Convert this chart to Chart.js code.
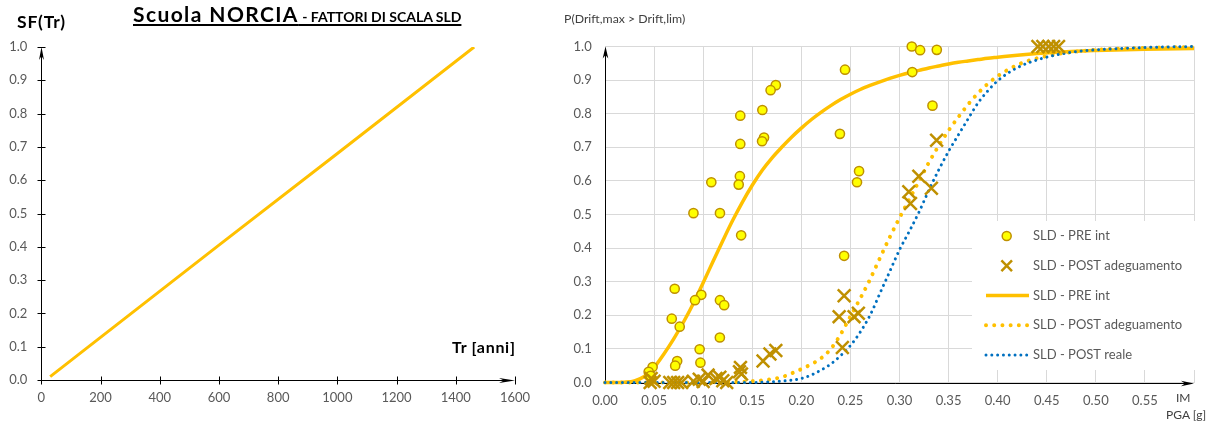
<!DOCTYPE html>
<html>
<head>
<meta charset="utf-8">
<script src="https://cdn.jsdelivr.net/npm/chart.js@4.4.1/dist/chart.umd.min.js"></script>
<style>
  html, body { margin: 0; padding: 0; background: #fff; }
  body { width: 1210px; height: 421px; position: relative; overflow: hidden; font-family: Lato, "Open Sans", sans-serif; }
  canvas { position: absolute; top: 0; }
  #sfChart { left: 0; }
  #fragChart { left: 560px; }
  .lbl { position: absolute; white-space: nowrap; line-height: normal; }
  .bold { font-weight: bold; color: #000; }
  .gray { color: #404040; }
  #title { left: 133px; top: 1px; font-size: 21px; letter-spacing: 1.4px; text-decoration: underline; text-decoration-thickness: 1.5px; text-underline-offset: 2px; }
  #title .sub { font-size: 14px; letter-spacing: 0; }
  #sfLabel { left: 17px; top: 11px; font-size: 17.5px; letter-spacing: 0.8px; }
  #trLabel { left: 452px; top: 337px; font-size: 16px; letter-spacing: 0.7px; }
  #pLabel { left: 564px; top: 11px; font-size: 12.3px; }
  #imLabel { left: 1176px; top: 390px; font-size: 12px; }
  #pgaLabel { left: 1166px; top: 407px; font-size: 12px; }
</style>
</head>
<body>
<canvas id="sfChart" width="560" height="421"></canvas>
<canvas id="fragChart" width="650" height="421"></canvas>

<div class="lbl bold" id="title">Scuola NORCIA<span class="sub"> - FATTORI DI SCALA SLD</span></div>
<div class="lbl bold" id="sfLabel">SF(Tr)</div>
<div class="lbl bold" id="trLabel">Tr [anni]</div>
<div class="lbl gray" id="pLabel">P(Drift,max &gt; Drift,lim)</div>
<div class="lbl gray" id="imLabel">IM</div>
<div class="lbl gray" id="pgaLabel">PGA [g]</div>

<script>
// ---- Scale factor vs return period ----
const trYears  = [30, 200, 600, 1000, 1462];
const sfValues = [0.01, 0.128, 0.405, 0.68, 1.0];
const trTicks  = [0, 200, 400, 600, 800, 1000, 1200, 1400, 1600];
const trTickLabels = ['0', '200', '400', '600', '800', '1000', '1200', '1400', '1600'];
const sfTicks  = [0, 0.1, 0.2, 0.3, 0.4, 0.5, 0.6, 0.7, 0.8, 0.9, 1.0];
const sfTickLabels = ['0.0', '0.1', '0.2', '0.3', '0.4', '0.5', '0.6', '0.7', '0.8', '0.9', '1.0'];

// ---- Fragility curves (SLD) ----
const pgaGrid = [0.00, 0.01, 0.02, 0.03, 0.04, 0.05, 0.06, 0.07, 0.08, 0.09,
                 0.10, 0.11, 0.12, 0.13, 0.14, 0.15, 0.16, 0.17, 0.18, 0.19,
                 0.20, 0.21, 0.22, 0.23, 0.24, 0.25, 0.26, 0.27, 0.28, 0.29,
                 0.30, 0.31, 0.32, 0.33, 0.34, 0.35, 0.36, 0.37, 0.38, 0.39,
                 0.40, 0.42, 0.44, 0.46, 0.48, 0.50, 0.55, 0.60];
const preIntCurve = [0, 0, 0.001, 0.005, 0.018, 0.045, 0.085, 0.13, 0.18, 0.235,
                     0.297, 0.36, 0.422, 0.482, 0.537, 0.587, 0.631, 0.668, 0.70, 0.73,
                     0.757, 0.782, 0.804, 0.824, 0.842, 0.858, 0.872, 0.884, 0.895, 0.905,
                     0.914, 0.922, 0.929, 0.936, 0.942, 0.948, 0.953, 0.957, 0.961, 0.965,
                     0.968, 0.974, 0.979, 0.983, 0.986, 0.988, 0.992, 0.994];
const postAdegCurve = [0, 0, 0, 0, 0, 0, 0, 0, 0, 0,
                       0, 0, 0, 0.001, 0.002, 0.004, 0.006, 0.01, 0.016, 0.027,
                       0.04, 0.054, 0.072, 0.1, 0.143, 0.197, 0.25, 0.307, 0.37, 0.432,
                       0.49, 0.545, 0.6, 0.655, 0.705, 0.75, 0.79, 0.828, 0.861, 0.889,
                       0.912, 0.945, 0.965, 0.977, 0.985, 0.99, 0.996, 0.998];
const postRealeCurve = [0, 0, 0, 0, 0, 0, 0, 0, 0, 0,
                        0, 0, 0, 0, 0, 0, 0.001, 0.002, 0.004, 0.007,
                        0.012, 0.022, 0.037, 0.055, 0.08, 0.11, 0.15, 0.2, 0.265, 0.33,
                        0.395, 0.45, 0.508, 0.573, 0.633, 0.688, 0.737, 0.785, 0.832, 0.868,
                        0.898, 0.937, 0.96, 0.975, 0.985, 0.99, 0.997, 1.0];

// Analysis results, pre-intervention
const preIntPga  = [0.3125, 0.321, 0.338, 0.313, 0.2445, 0.3336, 0.174, 0.1687, 0.1603, 0.1378,
                    0.2393, 0.162, 0.160, 0.1378, 0.2588, 0.1374, 0.2567, 0.1083, 0.1362, 0.0901,
                    0.1171, 0.1387, 0.2436, 0.071, 0.0981, 0.0917, 0.1171, 0.1214, 0.068, 0.0761,
                    0.117, 0.0964, 0.0972, 0.0735, 0.0715, 0.0485, 0.0445, 0.0465];
const preIntProb = [1.0, 0.989, 0.99, 0.924, 0.931, 0.824, 0.885, 0.870, 0.811, 0.794,
                    0.740, 0.729, 0.718, 0.710, 0.629, 0.614, 0.596, 0.596, 0.589, 0.504,
                    0.504, 0.438, 0.377, 0.279, 0.261, 0.245, 0.245, 0.230, 0.190, 0.166,
                    0.134, 0.099, 0.059, 0.064, 0.050, 0.046, 0.032, 0.020];

// Analysis results, after retrofit
const postAdegPga  = [0.046, 0.047, 0.050, 0.066, 0.070, 0.074, 0.078, 0.090, 0.096, 0.100,
                      0.105, 0.113, 0.117, 0.120, 0.124, 0.137, 0.138, 0.139, 0.161, 0.168,
                      0.174, 0.2418, 0.2385, 0.2436, 0.2537, 0.2581, 0.3095, 0.3112, 0.3197, 0.3325,
                      0.3378, 0.441, 0.446, 0.452, 0.457, 0.462];
const postAdegProb = [0.0, 0.012, 0.004, 0.0, 0.0, 0.0, 0.0, 0.004, 0.01, 0.003,
                      0.022, 0.012, 0.016, 0.005, 0.0, 0.032, 0.045, 0.025, 0.064, 0.085,
                      0.095, 0.104, 0.196, 0.258, 0.196, 0.206, 0.568, 0.533, 0.614, 0.578,
                      0.721, 1.0, 1.0, 1.0, 1.0, 1.0];

const pgaTicks  = [0, 0.05, 0.10, 0.15, 0.20, 0.25, 0.30, 0.35, 0.40, 0.45, 0.50, 0.55, 0.60];
const pgaTickLabels = ['0.00', '0.05', '0.10', '0.15', '0.20', '0.25', '0.30', '0.35', '0.40', '0.45', '0.50', '0.55', ''];
const probTicks = [0, 0.1, 0.2, 0.3, 0.4, 0.5, 0.6, 0.7, 0.8, 0.9, 1.0];
const probTickLabels = ['0.0', '0.1', '0.2', '0.3', '0.4', '0.5', '0.6', '0.7', '0.8', '0.9', '1.0'];

const toPoints = (xs, ys) => xs.map((x, i) => ({ x: x, y: ys[i] }));
const useTicks = values => scale => { scale.ticks = values.map(v => ({ value: v })); };
const labelFrom = labels => (v, i) => labels[i];

// fixed axis sizes, no extra room reserved for edge labels
const fixX = h => s => { s.height = h; s.paddingLeft = 0; s.paddingRight = 0; };
const fixY = w => s => { s.width = w; s.paddingTop = 0; s.paddingBottom = 0; };

const TICK_GRAY = '#595959';
const GRID_GRAY = '#D9D9D9';
const ORANGE = '#FFC000';
const GOLD = '#BF9000';
const BLUE = '#0070C0';

Chart.defaults.font.family = 'Lato, "Open Sans", sans-serif';
Chart.defaults.font.size = 13;
Chart.defaults.color = TICK_GRAY;

// Axis lines with arrow heads, optional crossing tick marks
const axisArrows = {
  id: 'axisArrows',
  beforeDatasetsDraw(chart, args, o) {
    const { ctx, chartArea: a } = chart;
    const x0 = Math.round(a.left) + 0.5;
    const y0 = Math.round(a.bottom) + 0.5;
    const yTop = a.top;
    const xEnd = a.right;
    ctx.save();
    ctx.strokeStyle = '#000';
    ctx.fillStyle = '#000';
    ctx.lineWidth = 1;
    ctx.beginPath();
    ctx.moveTo(x0, y0); ctx.lineTo(x0, yTop + o.yHead * 0.6);
    ctx.moveTo(x0, y0); ctx.lineTo(xEnd - o.xHead * 0.6, y0);
    ctx.stroke();
    ctx.beginPath();
    ctx.moveTo(x0, yTop);
    ctx.lineTo(x0 - o.yHalf, yTop + o.yHead);
    ctx.lineTo(x0, yTop + o.yHead * 0.7);
    ctx.lineTo(x0 + o.yHalf, yTop + o.yHead);
    ctx.closePath();
    ctx.moveTo(xEnd, y0);
    ctx.lineTo(xEnd - o.xHead, y0 - o.xHalf);
    ctx.lineTo(xEnd - o.xHead * 0.7, y0);
    ctx.lineTo(xEnd - o.xHead, y0 + o.xHalf);
    ctx.closePath();
    ctx.fill();
    if (o.crossTicks) {
      const xs = chart.scales.x, ys = chart.scales.y;
      ctx.beginPath();
      ys.ticks.forEach(t => {
        const py = Math.round(ys.getPixelForValue(t.value)) + 0.5;
        ctx.moveTo(x0 - 4, py); ctx.lineTo(x0 + 4, py);
      });
      xs.ticks.forEach(t => {
        const px = Math.round(xs.getPixelForValue(t.value)) + 0.5;
        ctx.moveTo(px, y0 - 4); ctx.lineTo(px, y0 + 4);
      });
      ctx.stroke();
    }
    ctx.restore();
  }
};

// Legend drawn in a white box inside the plot
const boxLegend = {
  id: 'boxLegend',
  beforeDatasetsDraw(chart, args, o) {
    const ctx = chart.ctx;
    ctx.save();
    ctx.fillStyle = '#fff';
    ctx.fillRect(o.box.x, o.box.y, o.box.w, o.box.h);
    ctx.font = o.font;
    ctx.textBaseline = 'middle';
    chart.data.datasets.forEach((ds, i) => {
      const y = o.row0 + i * o.rowStep;
      ctx.save();
      if (ds.showLine) {
        ctx.strokeStyle = ds.borderColor;
        ctx.lineWidth = ds.borderWidth;
        ctx.lineCap = ds.borderCapStyle || 'butt';
        ctx.setLineDash(ds.borderDash || []);
        ctx.beginPath();
        ctx.moveTo(o.lineX0, y);
        ctx.lineTo(o.lineX1, y);
        ctx.stroke();
      } else {
        ctx.fillStyle = ds.pointBackgroundColor || 'transparent';
        ctx.strokeStyle = ds.pointBorderColor;
        ctx.lineWidth = ds.pointBorderWidth;
        Chart.helpers.drawPoint(ctx, {
          pointStyle: ds.pointStyle,
          radius: o.markerRadius[ds.pointStyle],
          borderWidth: ds.pointBorderWidth,
          rotation: 0
        }, o.markerX, y);
      }
      ctx.restore();
      ctx.fillStyle = o.color;
      ctx.fillText(ds.label, o.textX, y);
    });
    ctx.restore();
  }
};

new Chart(document.getElementById('sfChart'), {
  type: 'scatter',
  data: {
    datasets: [{
      label: 'SF(Tr)',
      data: toPoints(trYears, sfValues),
      showLine: true,
      borderColor: ORANGE,
      borderWidth: 3,
      pointRadius: 0,
      fill: false
    }]
  },
  options: {
    responsive: false,
    animation: false,
    events: [],
    layout: { padding: { left: 0, top: 47, right: 45, bottom: 0 } },
    plugins: {
      legend: { display: false },
      tooltip: { enabled: false },
      axisArrows: { crossTicks: true, yHead: 13, yHalf: 2.5, xHead: 16, xHalf: 2.6 }
    },
    scales: {
      x: {
        type: 'linear', min: 0, max: 1600,
        afterBuildTicks: useTicks(trTicks),
        afterFit: fixX(41),
        grid: { display: false, drawTicks: false },
        border: { display: false },
        ticks: { padding: 10, color: TICK_GRAY, font: { size: 13 }, callback: labelFrom(trTickLabels) }
      },
      y: {
        type: 'linear', min: 0, max: 1,
        afterBuildTicks: useTicks(sfTicks),
        afterFit: fixY(41.3),
        grid: { display: false, drawTicks: false },
        border: { display: false },
        ticks: { padding: 14, color: TICK_GRAY, font: { size: 13 }, callback: labelFrom(sfTickLabels) }
      }
    }
  },
  plugins: [axisArrows]
});

new Chart(document.getElementById('fragChart'), {
  type: 'scatter',
  data: {
    datasets: [
      {
        label: 'SLD - PRE int',
        data: toPoints(preIntPga, preIntProb),
        pointStyle: 'circle',
        pointRadius: 4.6,
        pointBackgroundColor: '#FFFF00',
        pointBorderColor: GOLD,
        pointBorderWidth: 1.5,
        order: 1
      },
      {
        label: 'SLD - POST adeguamento',
        data: toPoints(postAdegPga, postAdegProb),
        pointStyle: 'crossRot',
        pointRadius: 9,
        pointBorderColor: GOLD,
        pointBorderWidth: 2.5,
        order: 0
      },
      {
        label: 'SLD - PRE int',
        data: toPoints(pgaGrid, preIntCurve),
        showLine: true,
        borderColor: ORANGE,
        borderWidth: 3.5,
        pointRadius: 0,
        cubicInterpolationMode: 'monotone',
        fill: false,
        order: 4
      },
      {
        label: 'SLD - POST adeguamento',
        data: toPoints(pgaGrid, postAdegCurve),
        showLine: true,
        borderColor: ORANGE,
        borderWidth: 4,
        borderDash: [0.01, 8.2],
        borderCapStyle: 'round',
        pointRadius: 0,
        cubicInterpolationMode: 'monotone',
        fill: false,
        order: 3
      },
      {
        label: 'SLD - POST reale',
        data: toPoints(pgaGrid, postRealeCurve),
        showLine: true,
        borderColor: BLUE,
        borderWidth: 3,
        borderDash: [0.01, 5.8],
        borderCapStyle: 'round',
        pointRadius: 0,
        cubicInterpolationMode: 'monotone',
        fill: false,
        order: 2
      }
    ]
  },
  options: {
    responsive: false,
    animation: false,
    events: [],
    clip: false,
    layout: { padding: { left: 0, top: 46.5, right: 16, bottom: 0 } },
    plugins: {
      legend: { display: false },
      tooltip: { enabled: false },
      axisArrows: { crossTicks: false, yHead: 12, yHalf: 2.8, xHead: 13, xHalf: 2.8 },
      boxLegend: {
        box: { x: 412, y: 221, w: 238, h: 149 },
        row0: 236, rowStep: 29.75,
        markerX: 446.7, lineX0: 426, lineX1: 469, textX: 473,
        markerRadius: { circle: 4.5, crossRot: 7.5 },
        font: '13px Lato, "Open Sans", sans-serif',
        color: TICK_GRAY
      }
    },
    scales: {
      x: {
        type: 'linear', min: 0, max: 0.6,
        afterBuildTicks: useTicks(pgaTicks),
        afterFit: fixX(38.5),
        grid: { color: GRID_GRAY, lineWidth: 1, drawTicks: false },
        border: { display: false },
        ticks: { padding: 11, color: TICK_GRAY, font: { size: 13 }, callback: labelFrom(pgaTickLabels) }
      },
      y: {
        type: 'linear', min: 0, max: 1,
        afterBuildTicks: useTicks(probTicks),
        afterFit: fixY(45),
        grid: { color: GRID_GRAY, lineWidth: 1, drawTicks: false },
        border: { display: false },
        ticks: { padding: 13.3, color: TICK_GRAY, font: { size: 13 }, callback: labelFrom(probTickLabels) }
      }
    }
  },
  plugins: [boxLegend, axisArrows]
});
</script>
</body>
</html>
